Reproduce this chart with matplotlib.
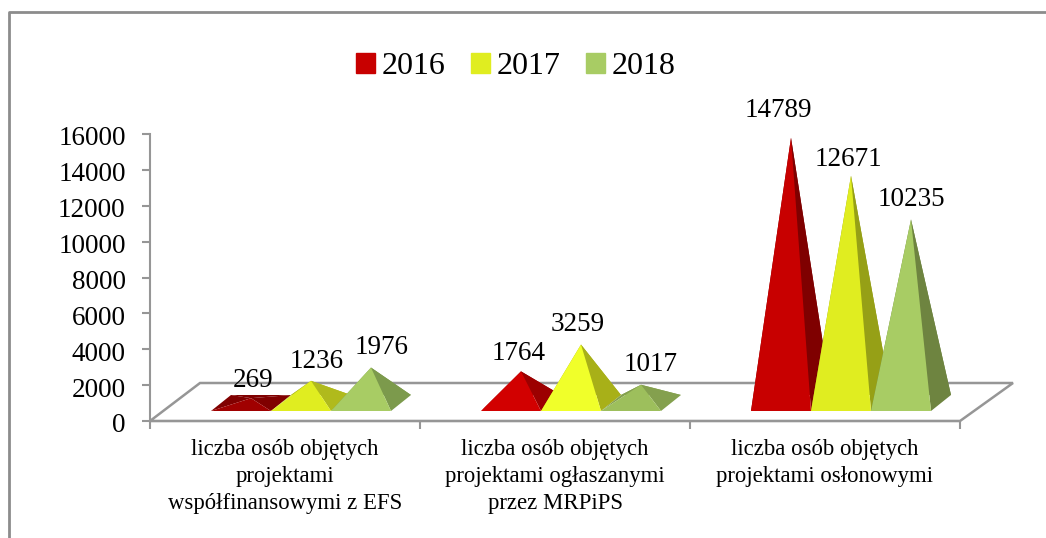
import matplotlib
matplotlib.use('Agg')
import numpy as np
from matplotlib import pyplot as plt
from matplotlib.transforms import ScaledTranslation

W, H = 1046, 538
plt.rcParams['font.family'] = ['Liberation Serif', 'DejaVu Serif']

years = ['2016', '2017', '2018']
categories = ['liczba osób objętych\nprojektami\nwspółfinansowymi z EFS',
              'liczba osób objętych\nprojektami ogłaszanymi\nprzez MRPiPS',
              'liczba osób objętych\nprojektami osłonowymi']
values = [[269, 1764, 14789],
          [1236, 3259, 12671],
          [1976, 1017, 10235]]
yticks = [0, 2000, 4000, 6000, 8000, 10000, 12000, 14000, 16000]

# front / side colours for each group, the lighting changes from group to group
front_colors = [['#a00000', '#d20000', '#c80000'],
                ['#e0ed20', '#f0ff2a', '#e0ed20'],
                ['#a8cc64', '#9dbf5c', '#a8cc64']]
side_colors = [['#800000', '#9c0000', '#7f0000'],
               ['#b0ba1c', '#a8b018', '#96a016'],
               ['#7c9a4c', '#84a04e', '#6e8440']]
label_shift = [[(2, 18), (-2, 18), (-13, 27)],
               [(6, 19), (-3, 20), (-3, 16)],
               [(11, 20), (10, 20), (0, 20)]]

fig = plt.figure(figsize=(W / 100, H / 100), dpi=100)

# axes box in pixels: y axis at x=150, value 0 at y=421, 16000 at y=134
ax = fig.add_axes([150 / W, 1 - 421 / H, 810 / W, 287 / H])
ax.set_xlim(0, 3)
ax.set_ylim(0, 16000)
ax.patch.set_alpha(0)
px_x = 3 / 810
px_y = 16000 / 287

gray = '#969696'

# floor of the 3d chart
floor_x = np.array([0, 50, 863, 810]) * px_x
floor_y = np.array([0, 38, 38, 0]) * px_y
ax.fill(floor_x, floor_y, facecolor='white', edgecolor=gray, lw=1.8, clip_on=False, zorder=1)

bar_w = 60 * px_x
depth_x = 20 * px_x
depth_y = 16 * px_y
base_y = 10 * px_y
offset = 16 * px_x

for c in range(3):
    center = c + 0.5 + offset
    for s in range(3):
        x0 = center + (s - 1.5) * bar_w
        x1 = x0 + bar_w
        v = values[s][c]
        apex = (x0 + bar_w / 2 + depth_x / 2, base_y + depth_y / 2 + v)
        fl, fr = (x0, base_y), (x1, base_y)
        bl, br = (x0 + depth_x, base_y + depth_y), (x1 + depth_x, base_y + depth_y)
        front = front_colors[s][c]
        side = side_colors[s][c]
        z = 3 + s
        ax.fill(*zip(bl, br, apex), color=side, lw=0, zorder=z, clip_on=False)
        ax.fill(*zip(fl, bl, apex), color=side, lw=0, zorder=z, clip_on=False)
        ax.fill(*zip(fr, br, apex), color=side, lw=0, zorder=z, clip_on=False)
        ax.fill(*zip(fl, fr, apex), color=front, lw=0, zorder=z + 0.1, clip_on=False)
        ax.annotate(str(v), apex, xytext=label_shift[s][c], textcoords='offset pixels',
                    ha='center', va='center', fontsize=19.5, color='black',
                    annotation_clip=False, zorder=10)

for side in ['top', 'right']:
    ax.spines[side].set_visible(False)
for side in ['left', 'bottom']:
    ax.spines[side].set_color(gray)
    ax.spines[side].set_linewidth(1.5)
ax.set_yticks(yticks)
ax.set_xticks([0, 1, 2, 3])
ax.set_xticklabels([])
ax.tick_params(axis='both', color=gray, width=1.5, length=6, labelsize=19.5)
ax.tick_params(axis='y', pad=11.5)
ax.set_xticks([0.5, 1.5, 2.5], minor=True)
ax.set_xticklabels(categories, minor=True, fontsize=16.4, linespacing=1.36, va='top')
ax.tick_params(axis='x', which='minor', length=0, pad=13)

# y labels sit slightly under their ticks
shift_down = ScaledTranslation(0, -2 / 100, fig.dpi_scale_trans)
for lab in ax.get_yticklabels():
    lab.set_transform(lab.get_transform() + shift_down)

# legend
handles = [plt.Rectangle((0, 0), 1, 1, color=col) for col in ['#c80000', '#e0ed20', '#a8cc64']]
fig.legend(handles, years, loc='center', bbox_to_anchor=(516 / W, 1 - 67 / H), ncol=3,
           frameon=False, fontsize=23, handlelength=0.6, handleheight=0.6,
           handletextpad=0.2, columnspacing=0.8)

# outer frame, only left and top are inside the crop
fig.add_artist(plt.Line2D([8.5 / W, 8.5 / W, 1], [0, 1 - 11.5 / H, 1 - 11.5 / H],
                          color='#8c8c8c', lw=2))

fig.savefig('out.png', dpi=100)
